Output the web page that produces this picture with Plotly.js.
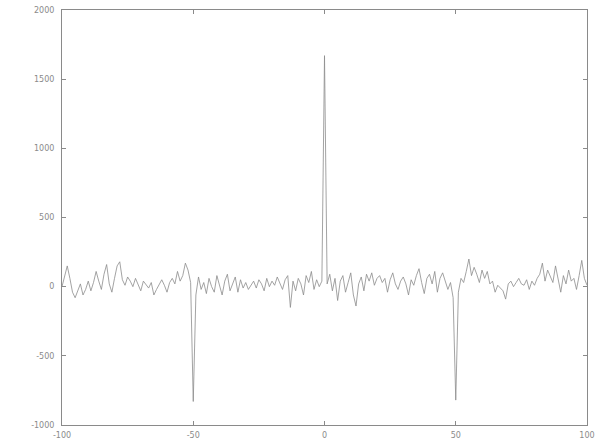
<!DOCTYPE html>
<html>
<head>
<meta charset="utf-8">
<script src="https://cdn.plot.ly/plotly-3.0.1.min.js"></script>
<style>html,body{margin:0;padding:0;background:#fff;}#chart{width:597px;height:443px;}</style>
</head>
<body>
<div id="chart"></div>
<script>
const xStart = -100;
const signalValues = [
  0, 80, 150, 60, -40, -80, -30, 20, -60, -20,
  40, -30, 30, 110, 40, -20, 90, 160, 20, -40,
  60, 150, 180, 50, 10, 70, 40, 0, 60, 20,
  -30, 40, 10, -10, 30, -60, -20, 20, 50, 10,
  -40, 30, 60, 20, 110, 40, 80, 170, 120, 30,
  -830,
  -60, 70, -20, 30, -50, 60, 0, -40, 80,
  10, -60, 40, 90, -30, 20, 70, -40, 50, -10,
  30, -20, 10, 40, -10, 50, 20, -30, 60, 0,
  40, 10, 70, 30, -20, 50, 80, -150, 40, -30,
  60, 20, -60, 80, 30, 110, -20, 50, 0, 40,
  1670,
  20, 90, -30, 60, -100, 40, 80, -40, 30, 100,
  -60, -140, 20, 70, -30, 90, 40, 100, 10, 60,
  80, 30, 60, -40, 50, 100, 20, -20, 40, 70,
  20, -60, 50, 10, 80, 130, 30, -50, 60, 90,
  20, 110, -40, 60, 100, 40, -20, 30, -80,
  -820,
  -40, 60, 30, 110, 200, 80, 140, 90, 30, 120,
  60, 110, 20, 40, -40, 10, -10, -30, -90, 20,
  40, 0, 30, 60, 20, 10, 50, -20, 40, 10,
  60, 90, 170, 40, 120, 70, 30, 150, 60, -40,
  80, 20, 120, 40, 60, -20, 80, 190, 60, 10
];
const xValues = signalValues.map((_, i) => xStart + i);
const xTicks = [-100, -50, 0, 50, 100];
const yTicks = [-1000, -500, 0, 500, 1000, 1500, 2000];

const axisCommon = {
  showgrid: false,
  zeroline: false,
  showline: true,
  mirror: 'ticks',
  linecolor: '#8a8a8a',
  linewidth: 1,
  ticks: 'inside',
  ticklen: 4,
  tickcolor: '#8a8a8a',
  tickfont: {family: 'DejaVu Sans, sans-serif', size: 8, color: '#8a8a8a'}
};

Plotly.newPlot('chart', [{
  x: xValues,
  y: signalValues,
  type: 'scatter',
  mode: 'lines',
  line: {color: '#8c8c8c', width: 0.8},
  hoverinfo: 'skip'
}], {
  width: 597,
  height: 443,
  margin: {l: 62, r: 10, t: 10, b: 18},
  paper_bgcolor: '#ffffff',
  plot_bgcolor: '#ffffff',
  showlegend: false,
  xaxis: Object.assign({}, axisCommon, {range: [-100, 100], tickvals: xTicks, ticktext: xTicks.map(String), ticklabelstandoff: 2}),
  yaxis: Object.assign({}, axisCommon, {range: [-1000, 2000], tickvals: yTicks, ticktext: yTicks.map(String), ticklabelstandoff: 5})
}, {staticPlot: true, displayModeBar: false});
</script>
</body>
</html>
